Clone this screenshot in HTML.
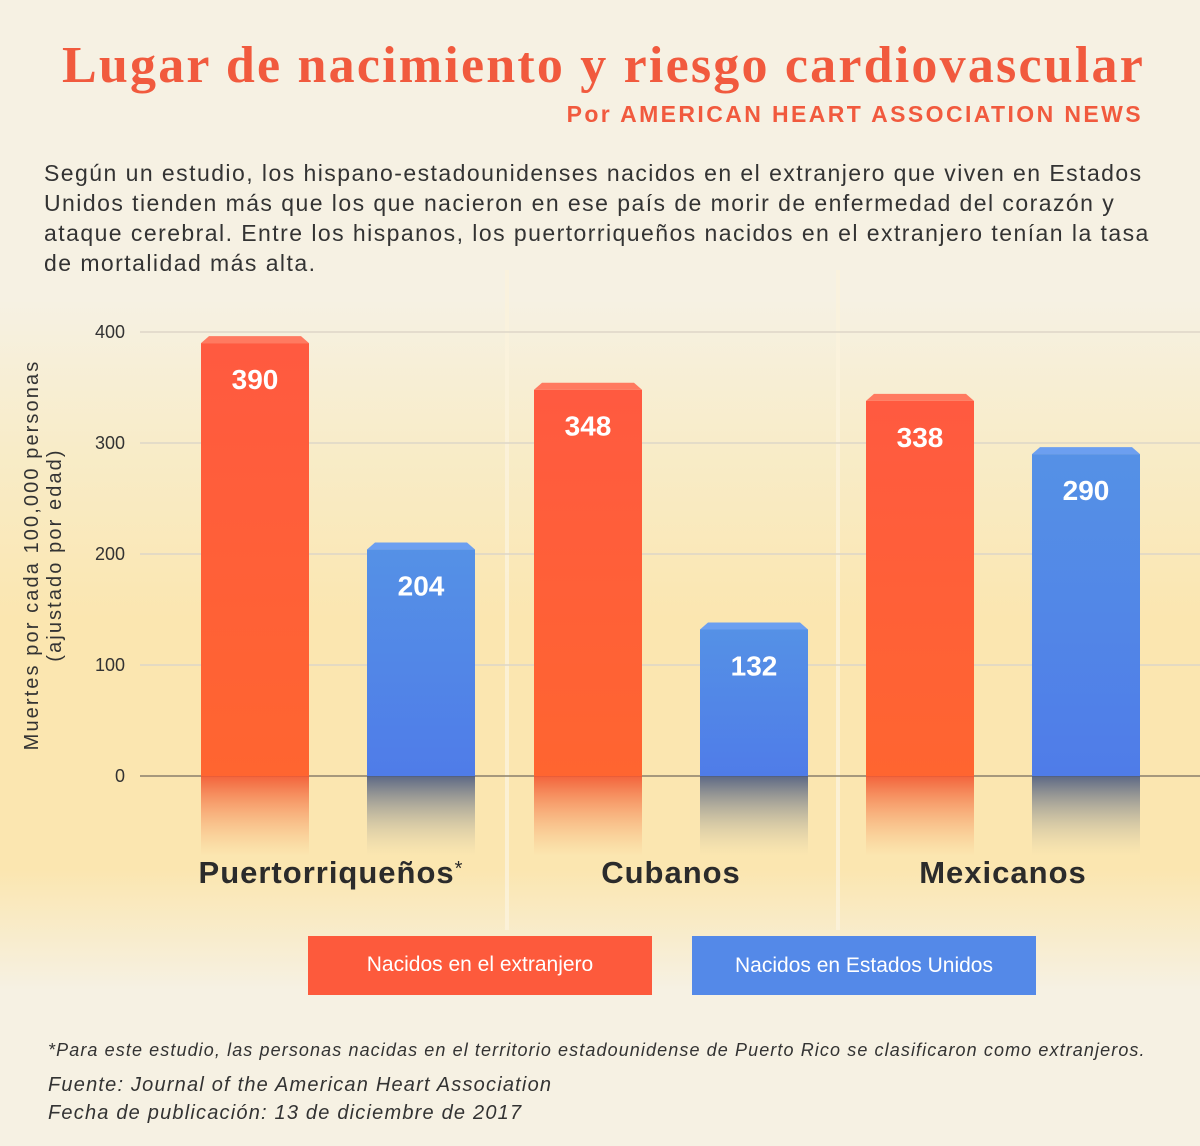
<!DOCTYPE html>
<html><head><meta charset="utf-8"><style>
body{margin:0;width:1200px;height:1146px;overflow:hidden;font-family:"Liberation Sans",sans-serif;
background:linear-gradient(#f6f1e3 0px,#f6f1e3 300px,#f8ecc8 450px,#fbe6b0 620px,#fbe6b0 870px,#f6f1e3 990px,#f6f1e3 1146px);}
.abs{position:absolute}
</style></head><body>
<div class="abs" style="left:0;width:1145px;top:36px;text-align:right;font-family:'Liberation Serif',serif;font-weight:bold;font-size:52px;letter-spacing:2.2px;color:#f15a3e;white-space:nowrap;">Lugar de nacimiento y riesgo cardiovascular</div>
<div class="abs" style="left:0;width:1143px;top:101px;text-align:right;font-weight:bold;font-size:23px;color:#f15a3e;letter-spacing:2.4px">Por AMERICAN HEART ASSOCIATION NEWS</div>
<div class="abs" style="left:44px;top:158px;width:1115px;font-size:23px;line-height:30px;color:#333;letter-spacing:1.45px;">Según un estudio, los hispano-estadounidenses nacidos en el extranjero que viven en Estados Unidos tienden más que los que nacieron en ese país de morir de enfermedad del corazón y ataque cerebral. Entre los hispanos, los puertorriqueños nacidos en el extranjero tenían la tasa de mortalidad más alta.</div>
<svg class="abs" style="left:0;top:0" width="1200" height="1146">
<defs>
<linearGradient id="rf" x1="0" y1="0" x2="0" y2="1"><stop offset="0" stop-color="#f2552f" stop-opacity="0.9"/><stop offset="1" stop-color="#f7a060" stop-opacity="0"/></linearGradient>
<linearGradient id="bf" x1="0" y1="0" x2="0" y2="1"><stop offset="0" stop-color="#4a5a80" stop-opacity="0.9"/><stop offset="1" stop-color="#c8c0a0" stop-opacity="0"/></linearGradient>
<linearGradient id="rg" x1="0" y1="0" x2="0" y2="1"><stop offset="0" stop-color="#ff5a40"/><stop offset="1" stop-color="#ff6530"/></linearGradient>
<linearGradient id="bg" x1="0" y1="0" x2="0" y2="1"><stop offset="0" stop-color="#5591e6"/><stop offset="1" stop-color="#4f7ce8"/></linearGradient>
</defs>
<g id="grid"></g><g id="bars"></g>
</svg>
<div class="abs" style="left:44px;top:555px;width:0;height:0;">
<div style="position:absolute;transform:translate(-50%,-50%) rotate(-90deg);white-space:nowrap;text-align:center;font-size:20px;letter-spacing:2.1px;line-height:23px;color:#333;">Muertes por cada 100,000 personas<br>(ajustado por edad)</div></div>
<div class="abs" style="left:308px;top:936px;width:344px;height:59px;background:#fd5a3c;color:#fff;font-size:21px;line-height:58px;text-align:center;">Nacidos en el extranjero</div>
<div class="abs" style="left:692px;top:936px;width:344px;height:59px;background:#5489e8;color:#fff;font-size:21px;line-height:60px;text-align:center;">Nacidos en Estados Unidos</div>
<div class="abs" style="left:48px;top:1040px;font-size:18px;font-style:italic;color:#333;letter-spacing:1.1px;white-space:nowrap;">*Para este estudio, las personas nacidas en el territorio estadounidense de Puerto Rico se clasificaron como extranjeros.</div>
<div class="abs" style="left:48px;top:1071px;font-size:20px;font-style:italic;color:#333;line-height:28px;letter-spacing:1.2px;">Fuente: Journal of the American Heart Association<br>Fecha de publicación: 13 de diciembre de 2017</div>
<script>
const categories=["Puertorriqueños","Cubanos","Mexicanos"];
const foreignBorn=[390,348,338];
const usBorn=[204,132,290];
const yTicks=[0,100,200,300,400];
const NS="http://www.w3.org/2000/svg";
const y0=776,pxPer=1.11;
function y(v){return y0-v*pxPer;}
const groupX=[201,534,866], barW=108, gap=166;
function mk(t,a,p){const e=document.createElementNS(NS,t);for(const k in a)e.setAttribute(k,a[k]);(p).appendChild(e);return e;}
const grid=document.getElementById('grid'),bars=document.getElementById('bars');
[507,838].forEach(x=>{const l=mk('rect',{x:x-2,y:270,width:4,height:660,fill:'#fbf3dc',opacity:0.8},grid);});
yTicks.forEach(t=>{
 const l=mk('line',{x1:140,x2:1200,y1:y(t),y2:y(t),stroke:t===0?'#8a7f6a':'#ddd6c8','stroke-width':1.5},grid);
 
 const tx=mk('text',{x:125,y:y(t)+6,'text-anchor':'end','font-size':18,fill:'#333'},grid);tx.textContent=t;
 
});
function bar(x,v,fill,ref,capc){
 const top=y(v);
 const g=mk('g',{},bars);
 mk('rect',{x:x,y:top,width:barW,height:y0-top,fill:fill},g);
 mk('polygon',{points:`${x},${top} ${x+barW},${top} ${x+barW-8},${top-7} ${x+8},${top-7}`,fill:capc},g);
 mk('rect',{x:x,y:y0,width:barW,height:80,fill:ref},g);
 const t=mk('text',{x:x+barW/2,y:top+46,'text-anchor':'middle','font-size':28,'font-weight':'bold',fill:'#fff'},g);t.textContent=v;
 
}
categories.forEach((c,i)=>{
 bar(groupX[i],foreignBorn[i],'url(#rg)','url(#rf)','#ff7a60');
 bar(groupX[i]+gap,usBorn[i],'url(#bg)','url(#bf)','#6c9ff0');
 const t=mk('text',{x:groupX[i]+gap/2+barW/2+(i===0?-7:0),y:883,'text-anchor':'middle','font-size':31,'font-weight':'bold','letter-spacing':1,fill:'#2b2b2b'},bars);
 t.textContent=c;
 if(i===0){const s=mk('tspan',{'font-size':20,dy:-8,'font-weight':'normal'},t);s.textContent='*';}
 
});
</script>
</body></html>
